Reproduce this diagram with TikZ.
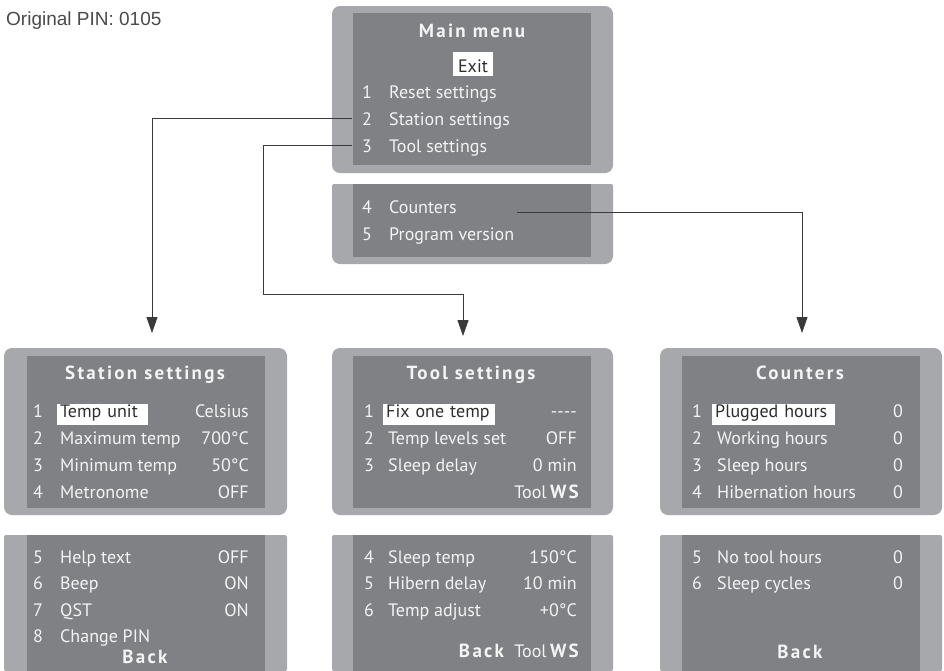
\documentclass[tikz,border=0pt]{standalone}
\usepackage{fontspec}
\setmainfont{Liberation Sans}
\newfontfamily\lcd{PT Sans}
\newfontfamily\lcdwide{PT Sans}[LetterSpace=12]
\usetikzlibrary{arrows.meta}
\usetikzlibrary{positioning}

\definecolor{framegray}{HTML}{A7A8AB}
\definecolor{screengray}{HTML}{808185}
\definecolor{lcdwhite}{HTML}{F4F4F4}
\definecolor{markdark}{HTML}{2E2E30}
\definecolor{linkgray}{HTML}{3A3A3C}
\definecolor{pingray}{HTML}{4A4A4A}

\newcommand{\lcdfont}{\lcd\fontsize{18}{20}\selectfont}
\newcommand{\lcdtitle}{\lcdwide\bfseries\fontsize{19}{21}\selectfont}

\tikzset{
	frame/.style={fill=framegray},
	screen/.style={fill=screengray},
	rowtext/.style={text=lcdwhite, font=\lcdfont, inner sep=0pt, anchor=base west},
	rowval/.style={rowtext, anchor=base east},
	menutitle/.style={text=lcdwhite, font=\lcdtitle, inner sep=0pt, anchor=base},
	marked/.style={rowtext, fill=white, text=markdark, inner xsep=3pt, inner ysep=0pt, text height=13pt, text depth=8pt},
	link/.style={draw=linkgray, line width=0.9pt, -{Triangle[length=16pt,width=11pt]}}
}

\begin{document}
\begin{tikzpicture}[x=1pt,y=-1pt]

	\useasboundingbox (0,0) rectangle (944,670);

	%PIN
	\node[anchor=base west, inner sep=0pt, text=pingray, font=\fontsize{19}{22}\selectfont] (pin) at (6,25) {Original PIN: 0105};

	%Main menu
	\fill[frame, rounded corners=8pt] (332,6) rectangle (613,173);
	\fill[screen] (353,13) rectangle (591,165);
	\fill[frame, rounded corners=8pt] (332,224) -- (332,264) -- (613,264) -- (613,224) [rounded corners=2pt] -- (613,184) -- (332,184) -- cycle;
	\fill[screen] (353,184) rectangle (591,257);

	\node[menutitle] (maintitle) at (472,37) {Main menu};
	\node[marked, anchor=base, text width=34pt, align=center, text height=20pt, text depth=4pt] (exit) at (473,72) {Exit};
	\node[rowtext] (m1) at (362,98) {1};
	\node[rowtext] (m1t) at (389,98) {Reset settings};
	\node[rowtext] (m2) at (362,125) {2};
	\node[rowtext] (m2t) at (389,125) {Station settings};
	\node[rowtext] (m3) at (362,152) {3};
	\node[rowtext] (m3t) at (389,152) {Tool settings};
	\node[rowtext] (m4) at (362,213) {4};
	\node[rowtext] (m4t) at (389,213) {Counters};
	\node[rowtext] (m5) at (362,240) {5};
	\node[rowtext] (m5t) at (389,240) {Program version};

	%Station settings
	\fill[frame, rounded corners=8pt] (4,348) rectangle (287,515);
	\fill[screen] (27,356) rectangle (265,508);
	\fill[frame, rounded corners=2pt] (4,671) -- (4,535) -- (287,535) -- (287,671) -- cycle;
	\fill[screen] (27,535) rectangle (265,671);

	\node[menutitle] (sttitle) at (145,379) {Station settings};
	\node[rowtext] (s1) at (33,417) {1};
	\node[marked, text width=85pt] (s1t) at (57,417) {Temp unit};
	\node[rowval] (s1v) at (249,417) {Celsius};
	\node[rowtext] (s2) at (33,444) {2};
	\node[rowtext] (s2t) at (60,444) {Maximum temp};
	\node[rowval] (s2v) at (249,444) {700°C};
	\node[rowtext] (s3) at (33,471) {3};
	\node[rowtext] (s3t) at (60,471) {Minimum temp};
	\node[rowval] (s3v) at (249,471) {50°C};
	\node[rowtext] (s4) at (33,498) {4};
	\node[rowtext] (s4t) at (60,498) {Metronome};
	\node[rowval] (s4v) at (249,498) {OFF};
	\node[rowtext] (s5) at (33,563) {5};
	\node[rowtext] (s5t) at (60,563) {Help text};
	\node[rowval] (s5v) at (249,563) {OFF};
	\node[rowtext] (s6) at (33,589) {6};
	\node[rowtext] (s6t) at (60,589) {Beep};
	\node[rowval] (s6v) at (249,589) {ON};
	\node[rowtext] (s7) at (33,616) {7};
	\node[rowtext] (s7t) at (60,616) {QST};
	\node[rowval] (s7v) at (249,616) {ON};
	\node[rowtext] (s8) at (33,642) {8};
	\node[rowtext] (s8t) at (60,642) {Change PIN};
	\node[menutitle] (sback) at (145,663) {Back};

	%Tool settings
	\fill[frame, rounded corners=8pt] (332,348) rectangle (613,515);
	\fill[screen] (353,356) rectangle (591,508);
	\fill[frame, rounded corners=2pt] (332,671) -- (332,535) -- (613,535) -- (613,671) -- cycle;
	\fill[screen] (353,535) rectangle (591,671);

	\node[menutitle] (tltitle) at (471,379) {Tool settings};
	\node[rowtext] (t1) at (364,417) {1};
	\node[marked, text width=106pt] (t1t) at (383,417) {Fix one temp};
	\node[rowval] (t1v) at (577,417) {----};
	\node[rowtext] (t2) at (364,444) {2};
	\node[rowtext] (t2t) at (388,444) {Temp levels set};
	\node[rowval] (t2v) at (577,444) {OFF};
	\node[rowtext] (t3) at (364,471) {3};
	\node[rowtext] (t3t) at (388,471) {Sleep delay};
	\node[rowval] (t3v) at (577,471) {0 min};
	\node[rowval, font=\lcdtitle] (tws) at (579,498) {WS};
	\node[rowval, base left=3pt of tws] (ttool) {Tool};
	\node[rowtext] (t4) at (364,563) {4};
	\node[rowtext] (t4t) at (388,563) {Sleep temp};
	\node[rowval] (t4v) at (577,563) {150°C};
	\node[rowtext] (t5) at (364,589) {5};
	\node[rowtext] (t5t) at (388,589) {Hibern delay};
	\node[rowval] (t5v) at (577,589) {10 min};
	\node[rowtext] (t6) at (364,616) {6};
	\node[rowtext] (t6t) at (388,616) {Temp adjust};
	\node[rowval] (t6v) at (577,616) {+0°C};
	\node[rowval, font=\lcdtitle] (tws2) at (579,657) {WS};
	\node[rowval, base left=3pt of tws2] (ttool2) {Tool};
	\node[rowval, font=\lcdtitle, base left=10pt of ttool2] (tback) {Back};

	%Counters
	\fill[frame, rounded corners=8pt] (660,348) rectangle (942,515);
	\fill[screen] (682,356) rectangle (920,508);
	\fill[frame, rounded corners=2pt] (660,671) -- (660,535) -- (942,535) -- (942,671) -- cycle;
	\fill[screen] (682,535) rectangle (920,671);

	\node[menutitle] (cttitle) at (800,379) {Counters};
	\node[rowtext] (c1) at (692,417) {1};
	\node[marked, text width=117pt] (c1t) at (712,417) {Plugged hours};
	\node[rowval] (c1v) at (903,417) {0};
	\node[rowtext] (c2) at (692,444) {2};
	\node[rowtext] (c2t) at (717,444) {Working hours};
	\node[rowval] (c2v) at (903,444) {0};
	\node[rowtext] (c3) at (692,471) {3};
	\node[rowtext] (c3t) at (717,471) {Sleep hours};
	\node[rowval] (c3v) at (903,471) {0};
	\node[rowtext] (c4) at (692,498) {4};
	\node[rowtext] (c4t) at (717,498) {Hibernation hours};
	\node[rowval] (c4v) at (903,498) {0};
	\node[rowtext] (c5) at (692,563) {5};
	\node[rowtext] (c5t) at (717,563) {No tool hours};
	\node[rowval] (c5v) at (903,563) {0};
	\node[rowtext] (c6) at (692,589) {6};
	\node[rowtext] (c6t) at (717,589) {Sleep cycles};
	\node[rowval] (c6v) at (903,589) {0};
	\node[menutitle] (cback) at (800,658) {Back};

	%Links
	\coordinate (stin) at (152,333);
	\coordinate (tlbend) at (263,294);
	\coordinate (tlin) at (463,336);
	\coordinate (ctout) at (517,212);
	\coordinate (ctin) at (802,333);
	\draw[link] ([xshift=-10pt]m2.west) -| (stin);
	\draw[link] ([xshift=-10pt]m3.west) -| (tlbend) -| (tlin);
	\draw[link] (ctout) -| (ctin);

\end{tikzpicture}
\end{document}
